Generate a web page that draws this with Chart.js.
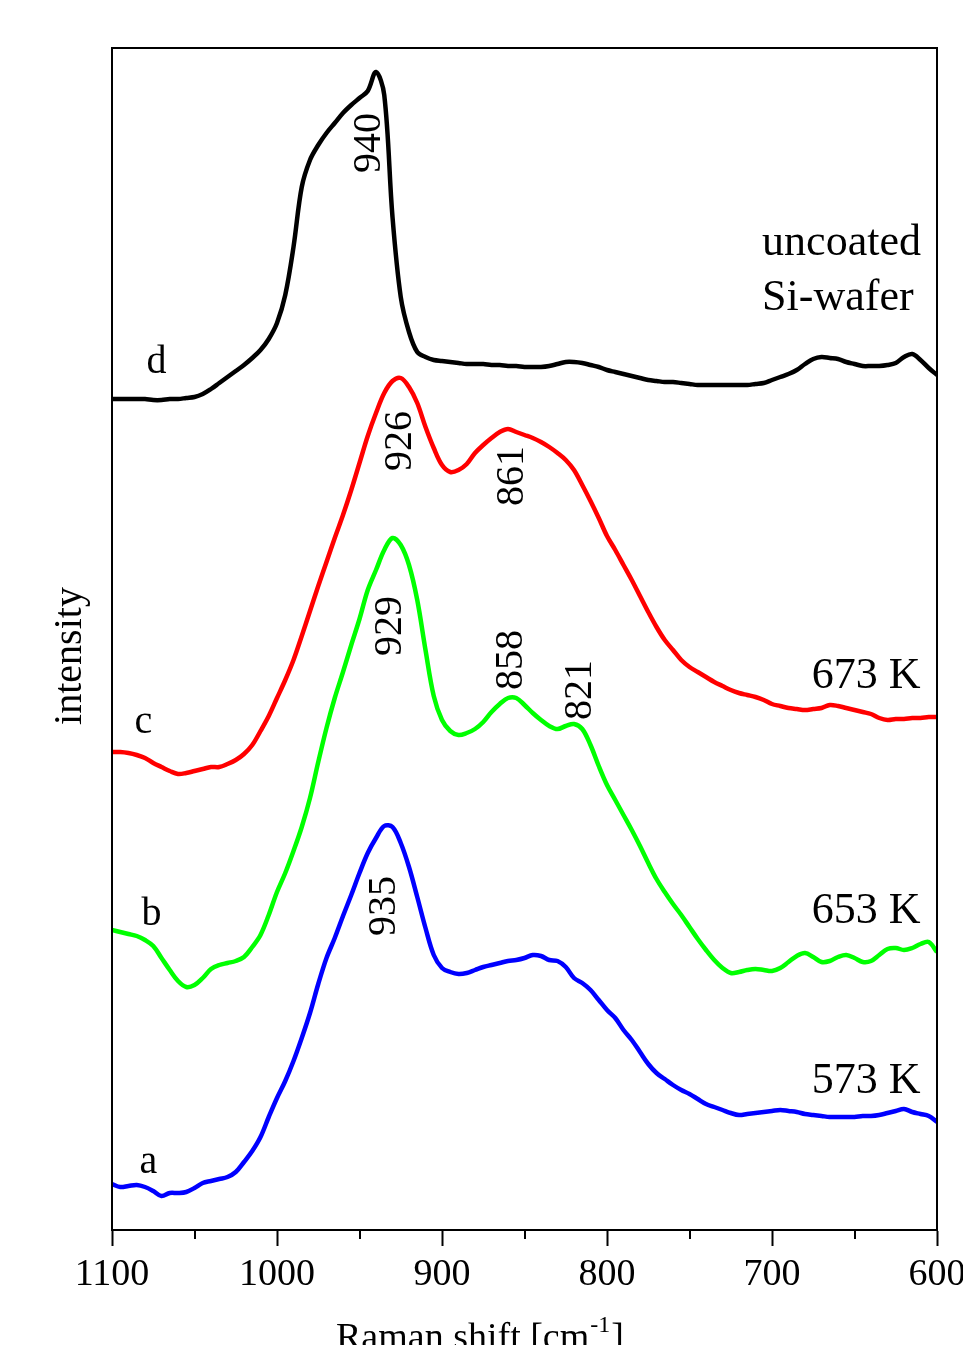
<!DOCTYPE html>
<html>
<head>
<meta charset="utf-8">
<title>Raman spectra</title>
<script src="https://cdn.jsdelivr.net/npm/chart.js@4.4.1/dist/chart.umd.min.js"></script>
<style>
  html, body { margin: 0; padding: 0; background: #fff; overflow: hidden; }
  #wrap { width: 980px; height: 1345px; }
</style>
</head>
<body>
<div id="wrap"><canvas id="raman" width="980" height="1345"></canvas></div>
<script>
// Raman shift [cm-1], same grid for all four spectra
const ramanShift = [
  1100, 1095, 1090, 1085, 1080, 1075, 1070, 1065, 1060, 1055,
  1050, 1045, 1040, 1035, 1030, 1025, 1020, 1015, 1010, 1005,
  1000, 995, 990, 985, 980, 975, 970, 965, 960, 955,
  950, 945, 940, 935, 930, 925, 920, 915, 910, 905,
  900, 895, 890, 885, 880, 875, 870, 865, 860, 855,
  850, 845, 840, 835, 830, 825, 820, 815, 810, 805,
  800, 795, 790, 785, 780, 775, 770, 765, 760, 755,
  750, 745, 740, 735, 730, 725, 720, 715, 710, 705,
  700, 695, 690, 685, 680, 675, 670, 665, 660, 655,
  650, 645, 640, 635, 630, 625, 620, 615, 610, 605,
  600
];

// d - uncoated Si-wafer
const spectrumD = [
  831, 831, 831, 831, 831, 830, 830, 831, 831, 832,
  833, 836, 841, 847, 853, 859, 865, 872, 880, 891,
  907, 935, 983, 1043, 1070, 1085, 1097, 1107, 1117, 1125,
  1132, 1139, 1158, 1135, 1013, 933, 898, 878, 873, 870,
  869, 868, 867, 866, 866, 866, 865, 865, 864, 864,
  863, 863, 863, 864, 866, 868, 868, 867, 865, 863,
  860, 858, 856, 854, 852, 850, 849, 848, 848, 847,
  846, 845, 845, 845, 845, 845, 845, 845, 846, 847,
  850, 853, 856, 860, 866, 871, 873, 872, 871, 868,
  866, 864, 864, 864, 865, 867, 873, 876, 870, 862,
  855
];

// c - 673 K
const spectrumC = [
  478, 478, 477, 475, 472, 467, 463, 459, 456, 457,
  459, 461, 463, 463, 466, 470, 476, 485, 499, 514,
  532, 550, 570, 594, 619, 644, 668, 692, 715, 740,
  767, 794, 817, 837, 849, 852, 843, 827, 803, 782,
  765, 758, 760, 766, 777, 785, 792, 798, 801, 798,
  795, 792, 788, 783, 777, 770, 760, 745, 729, 712,
  694, 680, 665, 650, 634, 618, 603, 590, 580, 570,
  563, 558, 553, 548, 544, 540, 537, 535, 533, 530,
  526, 524, 522, 521, 520, 521, 522, 525, 524, 522,
  520, 518, 516, 512, 510, 511, 511, 512, 512, 513,
  513
];

// b - 653 K
const spectrumB = [
  300, 298, 296, 294, 290, 284, 272, 260, 249, 243,
  245, 252, 261, 265, 267, 269, 273, 283, 295, 315,
  338, 357, 379, 403, 432, 468, 502, 532, 558, 585,
  611, 640, 660, 680, 692, 685, 665, 630, 580, 534,
  510, 499, 495, 497, 501, 508, 518, 526, 532, 532,
  525, 517, 510, 504, 501, 504, 506, 501, 485, 464,
  445, 430, 415, 400, 384, 367, 351, 338, 326, 315,
  303, 291, 280, 270, 262, 257, 258, 260, 261, 260,
  259, 262, 268, 274, 277, 273, 268, 269, 273, 275,
  272, 268, 269, 275, 281, 282, 280, 282, 286, 288,
  278
];

// a - 573 K
const spectrumA = [
  46, 43, 44, 45, 43, 39, 34, 37, 37, 38,
  42, 47, 49, 51, 53, 58, 68, 79, 93, 113,
  132, 149, 169, 192, 217, 246, 272, 292, 314, 335,
  357, 377, 392, 404, 403, 387, 363, 333, 302, 275,
  262, 258, 256, 257, 260, 263, 265, 267, 269, 270,
  272, 275, 274, 270, 269, 263, 252, 247, 240, 230,
  220, 212, 200, 190, 178, 166, 157, 151, 145, 140,
  136, 131, 126, 123, 120, 117, 115, 116, 117, 118,
  119, 120, 119, 118, 116, 115, 114, 113, 113, 113,
  113, 114, 114, 115, 117, 119, 121, 118, 116, 114,
  108
];

const xTicks = [1100, 1000, 900, 800, 700, 600];
const xMinorTicks = [1050, 950, 850, 750, 650];

// peak positions written along the curves (rotated)
const peakLabels = [
  { text: '940', x: 944, y: 1087 },
  { text: '926', x: 925, y: 789 },
  { text: '861', x: 857, y: 754 },
  { text: '929', x: 931, y: 604 },
  { text: '858', x: 858, y: 570 },
  { text: '821', x: 816, y: 540 },
  { text: '935', x: 935, y: 324 }
];

// curve letters
const curveLetters = [
  { text: 'd', x: 1073, y: 857 },
  { text: 'c', x: 1081, y: 497 },
  { text: 'b', x: 1076, y: 305 },
  { text: 'a', x: 1078, y: 57 }
];

// sample descriptions on the right
const sampleLabels = [
  { text: 'uncoated', x: 706, y: 975, align: 'left' },
  { text: 'Si-wafer', x: 706, y: 920, align: 'left' },
  { text: '673 K', x: 610, y: 542, align: 'right' },
  { text: '653 K', x: 610, y: 307, align: 'right' },
  { text: '573 K', x: 610, y: 137, align: 'right' }
];

const series = [
  { label: 'd', values: spectrumD, color: '#000000' },
  { label: 'c', values: spectrumC, color: '#ff0000' },
  { label: 'b', values: spectrumB, color: '#00ff00' },
  { label: 'a', values: spectrumA, color: '#0000ff' }
];

const SERIF = "'Liberation Serif', 'Times New Roman', serif";

const framePlugin = {
  id: 'frame',
  afterDraw(chart) {
    const { ctx, chartArea: a, scales: { x, y } } = chart;
    ctx.save();

    // box around the plot (bottom edge comes from the x axis border)
    ctx.strokeStyle = '#000';
    ctx.lineWidth = 2;
    ctx.beginPath();
    ctx.moveTo(a.left, a.bottom);
    ctx.lineTo(a.left, a.top);
    ctx.lineTo(a.right, a.top);
    ctx.lineTo(a.right, a.bottom);
    ctx.stroke();

    // minor ticks
    ctx.beginPath();
    xMinorTicks.forEach(v => {
      const px = Math.round(x.getPixelForValue(v));
      ctx.moveTo(px, a.bottom);
      ctx.lineTo(px, a.bottom + 9);
    });
    ctx.stroke();

    ctx.fillStyle = '#000';

    // rotated peak labels
    ctx.font = '40px ' + SERIF;
    ctx.textAlign = 'center';
    ctx.textBaseline = 'middle';
    peakLabels.forEach(p => {
      ctx.save();
      ctx.translate(x.getPixelForValue(p.x), y.getPixelForValue(p.y));
      ctx.rotate(-Math.PI / 2);
      ctx.fillText(p.text, 0, 0);
      ctx.restore();
    });

    // curve letters
    ctx.textBaseline = 'alphabetic';
    curveLetters.forEach(p => {
      ctx.fillText(p.text, x.getPixelForValue(p.x), y.getPixelForValue(p.y));
    });

    // sample labels
    ctx.font = '44px ' + SERIF;
    sampleLabels.forEach(p => {
      ctx.textAlign = p.align;
      ctx.fillText(p.text, x.getPixelForValue(p.x), y.getPixelForValue(p.y));
    });

    // y axis title
    ctx.font = '40px ' + SERIF;
    ctx.textAlign = 'center';
    ctx.textBaseline = 'middle';
    ctx.save();
    ctx.translate(a.left - 42, 656);
    ctx.rotate(-Math.PI / 2);
    ctx.fillText('intensity', 0, 0);
    ctx.restore();

    // x axis title, mostly cut off by the bottom edge
    ctx.textAlign = 'left';
    ctx.textBaseline = 'alphabetic';
    const tx = a.left + 224;
    const ty = 1349;
    ctx.font = '38px ' + SERIF;
    const main = 'Raman shift [cm';
    ctx.fillText(main, tx, ty);
    let cx = tx + ctx.measureText(main).width;
    ctx.font = '24px ' + SERIF;
    ctx.fillText('-1', cx + 1, ty - 17);
    cx += ctx.measureText('-1').width + 2;
    ctx.font = '38px ' + SERIF;
    ctx.fillText(']', cx, ty);

    ctx.restore();
  }
};

new Chart(document.getElementById('raman'), {
  type: 'line',
  data: {
    datasets: series.map(s => ({
      label: s.label,
      data: ramanShift.map((v, i) => ({ x: v, y: s.values[i] })),
      borderColor: s.color,
      borderWidth: 4.5,
      pointRadius: 0,
      fill: false,
      tension: 0.35
    }))
  },
  options: {
    responsive: false,
    animation: false,
    devicePixelRatio: 1,
    layout: { padding: { left: 112, right: 43, top: 48, bottom: 0 } },
    plugins: {
      legend: { display: false },
      tooltip: { enabled: false }
    },
    scales: {
      x: {
        type: 'linear',
        reverse: true,
        min: 600,
        max: 1100,
        afterBuildTicks: s => { s.ticks = xTicks.map(v => ({ value: v })); },
        afterFit: s => { s.height = 115; },
        ticks: {
          color: '#000',
          font: { family: SERIF, size: 38 },
          padding: 6,
          maxRotation: 0,
          autoSkip: false,
          callback: v => String(v)
        },
        grid: {
          display: true,
          drawOnChartArea: false,
          drawTicks: true,
          tickLength: 16,
          tickWidth: 2,
          tickColor: '#000'
        },
        border: { display: true, color: '#000', width: 2 }
      },
      y: { display: false, min: 0, max: 1182 }
    }
  },
  plugins: [framePlugin]
});
</script>
</body>
</html>
